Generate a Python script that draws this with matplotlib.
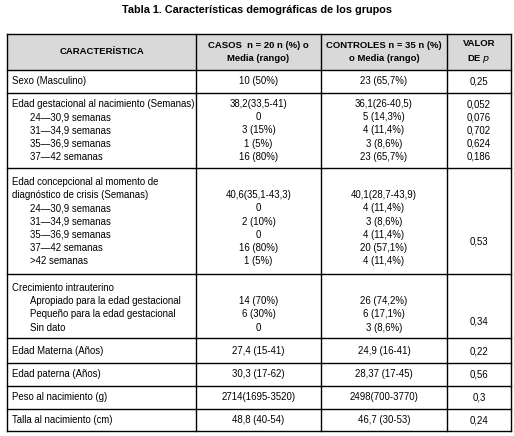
import matplotlib.pyplot as plt

plt.rcParams['font.family'] = ['Liberation Sans', 'DejaVu Sans']

title = "Tabla 1. Características demográficas de los grupos"
headers = ["CARACTERÍSTICA", "CASOS  n = 20 n (%) o\nMedia (rango)",
           "CONTROLES n = 35 n (%)\no Media (rango)", "VALOR\nDE $\\it{p}$"]

# each block: list of (label, indented, casos, controles, p), plus merged p value
sexo = [("Sexo (Masculino)", False, "10 (50%)", "23 (65,7%)", "0,25")]
edad_gest = [
    ("Edad gestacional al nacimiento (Semanas)", False, "38,2(33,5-41)", "36,1(26-40,5)", "0,052"),
    ("24—30,9 semanas", True, "0", "5 (14,3%)", "0,076"),
    ("31—34,9 semanas", True, "3 (15%)", "4 (11,4%)", "0,702"),
    ("35—36,9 semanas", True, "1 (5%)", "3 (8,6%)", "0,624"),
    ("37—42 semanas", True, "16 (80%)", "23 (65,7%)", "0,186"),
]
edad_concep = [
    ("Edad concepcional al momento de", False, "", "", ""),
    ("diagnóstico de crisis (Semanas)", False, "40,6(35,1-43,3)", "40,1(28,7-43,9)", ""),
    ("24—30,9 semanas", True, "0", "4 (11,4%)", ""),
    ("31—34,9 semanas", True, "2 (10%)", "3 (8,6%)", ""),
    ("35—36,9 semanas", True, "0", "4 (11,4%)", ""),
    ("37—42 semanas", True, "16 (80%)", "20 (57,1%)", ""),
    (">42 semanas", True, "1 (5%)", "4 (11,4%)", ""),
]
crecimiento = [
    ("Crecimiento intrauterino", False, "", "", ""),
    ("Apropiado para la edad gestacional", True, "14 (70%)", "26 (74,2%)", ""),
    ("Pequeño para la edad gestacional", True, "6 (30%)", "6 (17,1%)", ""),
    ("Sin dato", True, "0", "3 (8,6%)", ""),
]
materna = [("Edad Materna (Años)", False, "27,4 (15-41)", "24,9 (16-41)", "0,22")]
paterna = [("Edad paterna (Años)", False, "30,3 (17-62)", "28,37 (17-45)", "0,56")]
peso = [("Peso al nacimiento (g)", False, "2714(1695-3520)", "2498(700-3770)", "0,3")]
talla = [("Talla al nacimiento (cm)", False, "48,8 (40-54)", "46,7 (30-53)", "0,24")]

blocks = [sexo, edad_gest, edad_concep, crecimiento, materna, paterna, peso, talla]
merged_p = [None, None, "0,53", "0,34", None, None, None, None]

# layout (pixels)
col_x = [7, 196, 321, 447, 511]
row_y = [34, 70, 93, 168, 274, 338, 363, 386, 409, 431]
first_line = [81, 104, 182, 288, 351, 374, 397, 420]
merged_y = [None, None, 241, 321, None, None, None, None]
step = 13.2
fs = 6.9

fig = plt.figure(figsize=(5.14, 4.36), dpi=100)
ax = fig.add_axes([0, 0, 1, 1])
ax.set_xlim(0, 514)
ax.set_ylim(436, 0)
ax.axis('off')

ax.text(257, 10, title, ha='center', va='center', fontsize=7.8, fontweight='bold')
ax.fill_between([col_x[0], col_x[-1]], row_y[0], row_y[1], color='#d9d9d9', lw=0)
for y in row_y:
    ax.plot([col_x[0], col_x[-1]], [y, y], color='k', lw=1.0)
for x in col_x:
    ax.plot([x, x], [row_y[0], row_y[-1]], color='k', lw=1.0)

centers = [(col_x[i] + col_x[i + 1]) / 2 for i in range(4)]
for i, h in enumerate(headers):
    ax.text(centers[i], 52, h, ha='center', va='center', fontsize=6.8,
            fontweight='bold', linespacing=1.55)

for b, block in enumerate(blocks):
    for k, (label, ind, ca, co, p) in enumerate(block):
        y = first_line[b] + k * step
        ax.text(30 if ind else 12, y, label, ha='left', va='center', fontsize=fs)
        ax.text(centers[1], y, ca, ha='center', va='center', fontsize=fs)
        ax.text(centers[2], y, co, ha='center', va='center', fontsize=fs)
        ax.text(centers[3], y, p, ha='center', va='center', fontsize=fs)
    if merged_p[b]:
        ax.text(centers[3], merged_y[b], merged_p[b], ha='center', va='center', fontsize=fs)

fig.savefig('out.png', dpi=100)
